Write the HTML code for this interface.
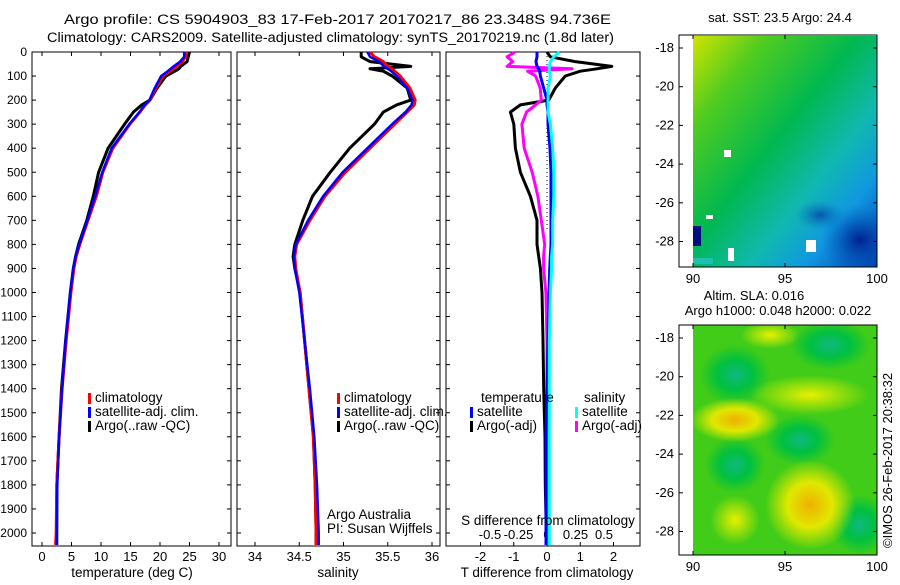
<!DOCTYPE html>
<html><head><meta charset="utf-8"><style>
body{margin:0;background:#fff;font-family:"Liberation Sans",sans-serif;}
svg text{font-family:"Liberation Sans",sans-serif;font-size:12px;fill:#000;}
svg text.w{font-size:13.5px;}
</style></head><body>
<svg id="c" width="900" height="580" xmlns="http://www.w3.org/2000/svg">
<defs>
<linearGradient id="sst" x1="0" y1="0" x2="1" y2="1">
<stop offset="0" stop-color="#d0e400"/><stop offset="0.2" stop-color="#50cc20"/><stop offset="0.45" stop-color="#00b850"/><stop offset="0.65" stop-color="#10b8b0"/><stop offset="0.8" stop-color="#1098e0"/><stop offset="1" stop-color="#0040b0"/>
</linearGradient>
<radialGradient id="navy"><stop offset="0" stop-color="#002090"/><stop offset="1" stop-color="#0060c0" stop-opacity="0"/></radialGradient>
<radialGradient id="yel"><stop offset="0" stop-color="#f0b000"/><stop offset="0.5" stop-color="#e0e800"/><stop offset="1" stop-color="#e0e800" stop-opacity="0"/></radialGradient>
<radialGradient id="yel2"><stop offset="0" stop-color="#e8f000"/><stop offset="1" stop-color="#e8f000" stop-opacity="0"/></radialGradient>
<radialGradient id="grn"><stop offset="0" stop-color="#10b880"/><stop offset="0.5" stop-color="#00c040"/><stop offset="1" stop-color="#00c040" stop-opacity="0"/></radialGradient>
<clipPath id="c1"><rect x="693" y="36" width="184" height="231"/></clipPath>
<clipPath id="c2"><rect x="693" y="325" width="184" height="230"/></clipPath>
</defs>
<g id="titles">
<text x="64" y="24" textLength="547" lengthAdjust="spacingAndGlyphs" class="w">Argo profile: CS 5904903_83 17-Feb-2017 20170217_86 23.348S 94.736E</text>
<text x="47" y="42" textLength="567" lengthAdjust="spacingAndGlyphs" class="w">Climatology: CARS2009. Satellite-adjusted climatology: synTS_20170219.nc (1.8d later)</text>
</g>
<g id="p1"></g>
<g id="p2"></g>
<g id="p3"></g>
<g id="m1">
<text x="780" y="22" text-anchor="middle" style="font-size:13px">sat. SST: 23.5 Argo: 24.4</text>
<g clip-path="url(#c1)">
<rect x="693" y="36" width="184" height="231" fill="url(#sst)"/>
<ellipse cx="860" cy="240" rx="40" ry="35" fill="url(#navy)"/>
<ellipse cx="820" cy="215" rx="25" ry="15" fill="url(#navy)" opacity="0.6"/>
</g>
<rect x="693" y="226" width="8" height="20" fill="#001080"/>
<rect x="693" y="258" width="20" height="6" fill="#20c0b0"/>
<rect x="728" y="248" width="6" height="13" fill="#fff"/>
<rect x="806" y="240" width="10" height="12" fill="#fff"/>
<rect x="724" y="150" width="7" height="7" fill="#fff"/>
<rect x="706" y="215" width="7" height="4" fill="#fff"/>
<rect x="679" y="35" width="198" height="232" fill="none" stroke="#000"/>
</g>
<g id="m2">
<text x="754" y="300" text-anchor="middle" style="font-size:13px">Altim. SLA: 0.016</text>
<text x="778" y="315" text-anchor="middle" style="font-size:13px">Argo h1000: 0.048 h2000: 0.022</text>
<g clip-path="url(#c2)">
<rect x="693" y="325" width="184" height="230" fill="#40cc18"/>
<ellipse cx="735" cy="375" rx="35" ry="30" fill="url(#grn)"/>
<ellipse cx="830" cy="345" rx="40" ry="25" fill="url(#grn)"/>
<ellipse cx="735" cy="465" rx="30" ry="28" fill="url(#grn)"/>
<ellipse cx="860" cy="525" rx="30" ry="30" fill="url(#grn)"/>
<ellipse cx="800" cy="440" rx="35" ry="25" fill="url(#grn)"/>
<ellipse cx="735" cy="420" rx="45" ry="22" fill="url(#yel)"/>
<ellipse cx="810" cy="395" rx="60" ry="20" fill="url(#yel2)"/>
<ellipse cx="810" cy="505" rx="45" ry="45" fill="url(#yel)"/>
<ellipse cx="770" cy="335" rx="30" ry="14" fill="url(#yel2)"/>
<ellipse cx="735" cy="520" rx="25" ry="25" fill="url(#yel2)"/>
</g>
<rect x="679" y="325" width="198" height="230" fill="none" stroke="#000"/>
</g>
<text transform="translate(892,548) rotate(-90)" style="font-size:13px">©IMOS 26-Feb-2017 20:38:32</text>
</svg>
<script>
const depths=[0,20,40,60,70,80,100,150,200,220,250,300,400,500,600,700,800,850,900,1000,1200,1400,1600,1800,2000,2050];
const tClim=[24.4,24.3,23.8,22.8,22.2,21.7,20.5,19.3,18.3,17.5,16.6,14.9,12,10.3,9.2,7.8,6.4,5.8,5.4,4.9,4.1,3.4,2.9,2.5,2.4,2.3];
const tSat=[24.1,24.1,23.4,22.3,21.8,21.3,20.2,19.1,18.2,17.4,16.5,14.8,11.8,10.2,9.0,7.7,6.3,5.7,5.3,4.8,4.0,3.4,2.9,2.6,2.5,2.5];
const tArgo=[25.0,24.8,24.6,23.5,23.2,22.5,21.0,19.5,18.3,16.9,15.5,14.0,11.2,9.6,8.7,7.6,6.2,5.7,5.3,4.8,4.0,3.3,2.9,2.5,2.5,2.5];
const sClim=[35.3,35.35,35.45,35.5,35.55,35.58,35.64,35.75,35.81,35.8,35.72,35.58,35.3,35.02,34.79,34.62,34.47,34.45,34.46,34.51,34.56,34.61,34.66,34.68,34.69,34.69];
const sSat=[35.27,35.3,35.4,35.46,35.5,35.54,35.6,35.72,35.78,35.77,35.7,35.55,35.27,34.99,34.77,34.6,34.46,34.44,34.45,34.5,34.56,34.62,34.67,34.7,34.72,34.72];
const sArgo=[35.2,35.2,35.3,35.76,35.3,35.45,35.55,35.72,35.76,35.6,35.45,35.35,35.07,34.85,34.65,34.54,34.45,34.43,34.45,34.51,34.56,34.61,34.66,34.68,34.69,34.69];
const dTArgo=[0,0.1,0.85,1.95,1.5,1.0,0.55,0.25,0.05,-0.8,-1.1,-1.0,-0.95,-0.8,-0.5,-0.3,-0.3,-0.25,-0.2,-0.15,-0.12,-0.1,-0.06,-0.05,-0.02,-0.02];
const dSArgo=[-0.28,-0.35,-0.3,-0.35,0.22,-0.17,-0.1,-0.06,-0.05,-0.1,-0.18,-0.22,-0.2,-0.13,-0.08,-0.05,-0.02,-0.03,-0.03,-0.01,0,0,0,0,0,0];
const dTSat=[-0.3,-0.3,-0.33,-0.3,-0.25,-0.22,-0.2,-0.1,0,0,0.03,0.03,0.09,0.12,0.12,0.12,0.12,0.1,0.08,0.06,0.03,0,-0.03,-0.03,-0.03,-0.03];
const dSSat=[0.11,0.06,0.03,0.02,0.02,0.02,0.03,0.01,0.01,0.01,0.01,0.03,0.05,0.06,0.06,0.05,0.05,0.04,0.04,0.03,0.02,0.02,0.02,0.02,0.02,0.02];
const yTicks=[0,100,200,300,400,500,600,700,800,900,1000,1100,1200,1300,1400,1500,1600,1700,1800,1900,2000];
const tTicks=[0,5,10,15,20,25,30];
const sTicks=[34,34.5,35,35.5,36];
const dTTicks=[-2,-1,0,1,2];
const dSTicks=[-0.5,-0.25,0,0.25,0.5];
const NS="http://www.w3.org/2000/svg";
const yS=d=>52+d*0.2405;
function mk(p,t,a){const e=document.createElementNS(NS,t);for(const k in a)e.setAttribute(k,a[k]);p.appendChild(e);return e;}
function frame(g,x0,x1,labels){
 const r=mk(g,'rect',{x:x0,y:52,width:x1-x0,height:494,fill:'none',stroke:'#000'});
 
 
 yTicks.forEach(d=>{const y=yS(d);mk(g,'line',{x1:x0,x2:x0+4,y1:y,y2:y,stroke:'#000'});mk(g,'line',{x1:x1-4,x2:x1,y1:y,y2:y,stroke:'#000'});
  if(labels){const t=mk(g,'text',{x:x0-5,y:y+4,'text-anchor':'end'});t.textContent=d;
  
  }});
}
function xticks(g,vals,xs,y,labelY,top){vals.forEach(v=>{const x=xs(v);mk(g,'line',{x1:x,x2:x,y1:546,y2:542,stroke:'#000'});if(top)mk(g,'line',{x1:x,x2:x,y1:52,y2:56,stroke:'#000'});
 const t=mk(g,'text',{x:x,y:labelY,'text-anchor':'middle',style:'font-size:13px'});t.textContent=v;
 
 });}
function line(g,vals,xs,col,w,name){const pts=vals.map((v,i)=>xs(v).toFixed(1)+','+yS(depths[i]).toFixed(1)).join(' ');
 const p=mk(g,'polyline',{points:pts,fill:'none',stroke:col,'stroke-width':w,'stroke-linejoin':'round'});
 
 }
function txt(g,x,y,s,name,anchor){const t=mk(g,'text',{x:x,y:y,'text-anchor':anchor||'start','class':'w'});t.textContent=s;
 
 }
function leg(g,x,y,col,s,name){mk(g,'rect',{x:x,y:y-9,width:3,height:11,fill:col});txt(g,x+7,y,s,name);}
// panel 1
const p1=document.getElementById('p1');const xT=v=>42+v*5.9;
frame(p1,32,231,true);xticks(p1,tTicks,xT,546,561,true);
line(p1,tArgo,xT,'#000',3,'argo-temperature-line');line(p1,tClim,xT,'#f00',3,'climatology-temperature-line');line(p1,tSat,xT,'#00f',2.5,'satellite-temperature-line');
txt(p1,132,577,'temperature (deg C)','x-axis-title','middle');
leg(p1,88,402,'#f00','climatology','legend-climatology');leg(p1,88,416,'#00f','satellite-adj. clim.','legend-satellite');leg(p1,88,430,'#000','Argo(..raw -QC)','legend-argo');
// panel 2
const p2=document.getElementById('p2');const xS=v=>255+(v-34)*88.5;
frame(p2,237,440,false);xticks(p2,sTicks,xS,546,561,true);
line(p2,sArgo,xS,'#000',3,'argo-salinity-line');line(p2,sClim,xS,'#f00',3,'climatology-salinity-line');line(p2,sSat,xS,'#00f',2.5,'satellite-salinity-line');
txt(p2,338,577,'salinity','x-axis-title','middle');
leg(p2,337,402,'#f00','climatology','legend-climatology');leg(p2,337,416,'#00f','satellite-adj. clim.','legend-satellite');leg(p2,337,430,'#000','Argo(..raw -QC)','legend-argo');
txt(p2,327,519,'Argo Australia','credit-argo-australia');txt(p2,327,533,'PI: Susan Wijffels','credit-pi');
// panel 3
const p3=document.getElementById('p3');const xDT=v=>547+v*33.25;const xDS=v=>547+v*114;
frame(p3,446,640,false);xticks(p3,dTTicks,xDT,546,561,false);
dSTicks.forEach(v=>{const t=mk(p3,'text',{x:xDS(v),y:539,'text-anchor':'middle',style:'font-size:13px'});t.textContent=v;
 
 });
mk(p3,'line',{x1:547,x2:547,y1:52,y2:230,stroke:'#000','stroke-dasharray':'1,3'});
line(p3,dTArgo,xDT,'#000',3,'argo-t-diff-line');line(p3,dSArgo,xDS,'#f0f',3,'argo-s-diff-line');line(p3,dTSat,xDT,'#00f',3,'satellite-t-diff-line');line(p3,dSSat,xDS,'#0ff',3,'satellite-s-diff-line');
txt(p3,548,525,'S difference from climatology','s-diff-axis-title','middle');
txt(p3,547,577,'T difference from climatology','t-diff-axis-title','middle');
txt(p3,481,402,'temperature','legend-temperature-header');txt(p3,584,402,'salinity','legend-salinity-header');
leg(p3,470,416,'#00f','satellite','legend-t-satellite');leg(p3,470,430,'#000','Argo(-adj)','legend-t-argo');
leg(p3,575,416,'#0ff','satellite','legend-s-satellite');leg(p3,575,430,'#f0f','Argo(-adj)','legend-s-argo');
// maps
function mapAxes(gid,top,bot,latTop){const g=document.getElementById(gid);const lat=v=>latTop+(-18-v)*19.35;
 [-18,-20,-22,-24,-26,-28].forEach(v=>{const y=lat(v);mk(g,'line',{x1:679,x2:683,y1:y,y2:y,stroke:'#000'});mk(g,'line',{x1:873,x2:877,y1:y,y2:y,stroke:'#000'});
  const t=mk(g,'text',{x:674,y:y+4,'text-anchor':'end',style:'font-size:13px'});t.textContent=v;
  
  });
 [90,95,100].forEach(v=>{const x=693+(v-90)*18.4;mk(g,'line',{x1:x,x2:x,y1:bot,y2:bot-4,stroke:'#000'});mk(g,'line',{x1:x,x2:x,y1:top,y2:top+4,stroke:'#000'});
  const t=mk(g,'text',{x:x,y:bot+16,'text-anchor':'middle',style:'font-size:13px'});t.textContent=v;
  
  });}
mapAxes('m1',35,267,48);mapAxes('m2',325,555,338);
</script>
</body></html>
